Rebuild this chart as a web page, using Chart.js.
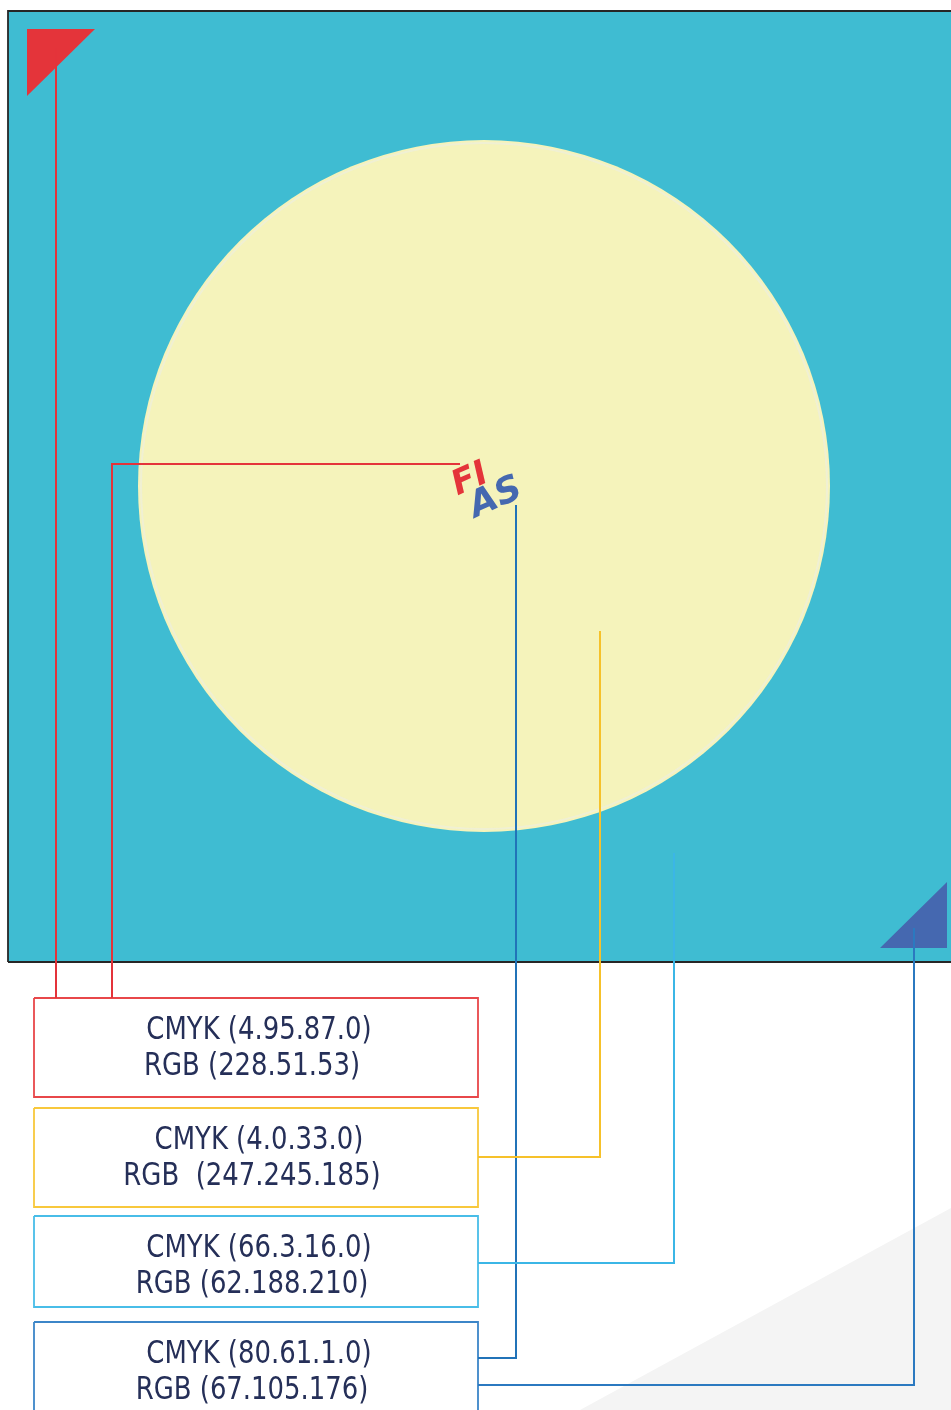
<!DOCTYPE html>
<html lang="en">
<head>
    <meta charset="UTF-8">
    <title>Mat colours</title>
    <style>
        body { margin: 0; padding: 0; background: #ffffff; }
        #wrap { width: 951px; height: 1410px; }
        canvas { display: block; }
    </style>
</head>
<body>
    <div id="wrap"><canvas id="mat" width="951" height="1410"></canvas></div>

    <script src="https://cdn.jsdelivr.net/npm/chart.js"></script>
    <script>
        // colour codes shown in the four boxes
        const cmykCodes = ['CMYK (4.95.87.0)', 'CMYK (4.0.33.0)', 'CMYK (66.3.16.0)', 'CMYK (80.61.1.0)'];
        const rgbCodes = ['RGB (228.51.53)', 'RGB  (247.245.185)', 'RGB (62.188.210)', 'RGB (67.105.176)'];

        // shapes, in page units (x right, y down)
        const matOutline = [[8, 962], [8, 11], [960, 11], [960, 962], [8, 962]];
        const circleCentre = [484, 486];
        const circleRadius = 346;
        const redCorner = [[27, 29], [95, 29], [27, 96], [27, 29]];
        const blueCorner = [[947, 882], [947, 948], [880, 948], [947, 882]];
        const greyWedge = [[580, 1410], [951, 1208], [951, 1410], [580, 1410]];

        // leader lines from the mat to the boxes
        const leaderRed1 = [[56, 48], [56, 998]];
        const leaderRed2 = [[460, 464], [112, 464], [112, 998]];
        const leaderYellow = [[600, 631], [600, 1157], [478, 1157]];
        const leaderCyan = [[674, 853], [674, 1263], [478, 1263]];
        const leaderBlue1 = [[516, 505], [516, 1358], [478, 1358]];
        const leaderBlue2 = [[914, 928], [914, 1385], [478, 1385]];

        // label boxes
        const boxLeft = 34, boxRight = 478;
        const boxTop = [998, 1108, 1216, 1322];
        const boxBottom = [1097, 1207, 1307, 1422];
        const boxColours = ['#e8474a', '#f8c83c', '#48bde8', '#3c86c8'];

        const pts = arr => arr.map(p => ({ x: p[0], y: p[1] }));

        function shape(label, arr, fillColour, strokeColour, width, order) {
            return {
                label: label,
                data: pts(arr),
                showLine: true,
                fill: fillColour ? 'shape' : false,
                backgroundColor: fillColour || 'transparent',
                borderColor: strokeColour || 'transparent',
                borderWidth: width,
                pointRadius: 0,
                tension: 0,
                order: order
            };
        }

        const datasets = [
            shape('grey', greyWedge, '#f4f4f4', null, 0, 100),
            shape('mat', matOutline, '#3fbcd2', '#262626', 1.8, 90),
            shape('redCorner', redCorner, '#e4343a', null, 0, 50),
            shape('blueCorner', blueCorner, '#4568b0', null, 0, 50)
        ];
        boxTop.forEach((t, i) => {
            const b = boxBottom[i];
            datasets.push(shape('box' + i, [[boxLeft, t], [boxRight, t], [boxRight, b], [boxLeft, b], [boxLeft, t]],
                null, boxColours[i], 1.8, 40));
        });
        datasets.push(shape('l1', leaderRed1, null, '#e4333a', 2, 10));
        datasets.push(shape('l2', leaderRed2, null, '#e4333a', 2, 10));
        datasets.push(shape('l3', leaderYellow, null, '#f6c12a', 2, 10));
        datasets.push(shape('l4', leaderCyan, null, '#3bb6e6', 2, 10));
        datasets.push(shape('l5', leaderBlue1, null, '#2173b8', 2, 10));
        datasets.push(shape('l6', leaderBlue2, null, '#2b79c0', 2, 10));

        // circle and logo painted right after the mat layer
        const circlePlugin = {
            id: 'circle',
            afterDatasetDraw(chart, args) {
                if (args.meta.label !== 'mat') return;
                const ctx = chart.ctx;
                const xs = chart.scales.x, ys = chart.scales.y;
                const cx = xs.getPixelForValue(circleCentre[0]);
                const cy = ys.getPixelForValue(circleCentre[1]);
                const r = xs.getPixelForValue(circleCentre[0] + circleRadius) - cx;
                ctx.save();
                ctx.beginPath();
                ctx.arc(cx, cy, r, 0, Math.PI * 2);
                ctx.fillStyle = '#f5f3bb';
                ctx.fill();
                ctx.beginPath();
                ctx.arc(cx, cy, r - 3, 0, Math.PI * 2);
                ctx.strokeStyle = 'rgba(240,240,214,0.9)';
                ctx.lineWidth = 2;
                ctx.stroke();

                // FIAS logo
                ctx.translate(xs.getPixelForValue(487), ys.getPixelForValue(488));
                ctx.rotate(-0.42);
                ctx.textAlign = 'center';
                ctx.textBaseline = 'middle';
                ctx.font = 'italic bold 34px "DejaVu Sans"';
                ctx.fillStyle = '#e4343a';
                ctx.fillText('FI', -12, -14);
                ctx.font = 'italic bold 36px "DejaVu Sans"';
                ctx.fillStyle = '#4568b0';
                ctx.fillText('AS', 4, 13);
                ctx.restore();
            }
        };

        const textPlugin = {
            id: 'codes',
            afterDatasetsDraw(chart) {
                const ctx = chart.ctx;
                const xs = chart.scales.x, ys = chart.scales.y;
                ctx.save();
                ctx.fillStyle = '#252f58';
                ctx.font = '500 32px "DejaVu Sans Condensed", sans-serif';
                ctx.textAlign = 'center';
                ctx.textBaseline = 'middle';
                boxTop.forEach((t, i) => {
                    const lines = [[cmykCodes[i], 259, t + 33], [rgbCodes[i], 252, t + 69]];
                    lines.forEach(([txt, x, y]) => {
                        ctx.save();
                        ctx.translate(xs.getPixelForValue(x), ys.getPixelForValue(y));
                        ctx.scale(0.9, 1);
                        ctx.fillText(txt, 0, 0);
                        ctx.restore();
                    });
                });
                ctx.restore();
            }
        };

        new Chart(document.getElementById('mat'), {
            type: 'scatter',
            data: { datasets },
            options: {
                responsive: false,
                animation: false,
                events: [],
                layout: { padding: 0 },
                plugins: { legend: { display: false }, tooltip: { enabled: false } },
                scales: {
                    x: { type: 'linear', min: 0, max: 951, display: false },
                    y: { type: 'linear', min: 0, max: 1410, reverse: true, display: false }
                }
            },
            plugins: [circlePlugin, textPlugin]
        });
    </script>
</body>
</html>
